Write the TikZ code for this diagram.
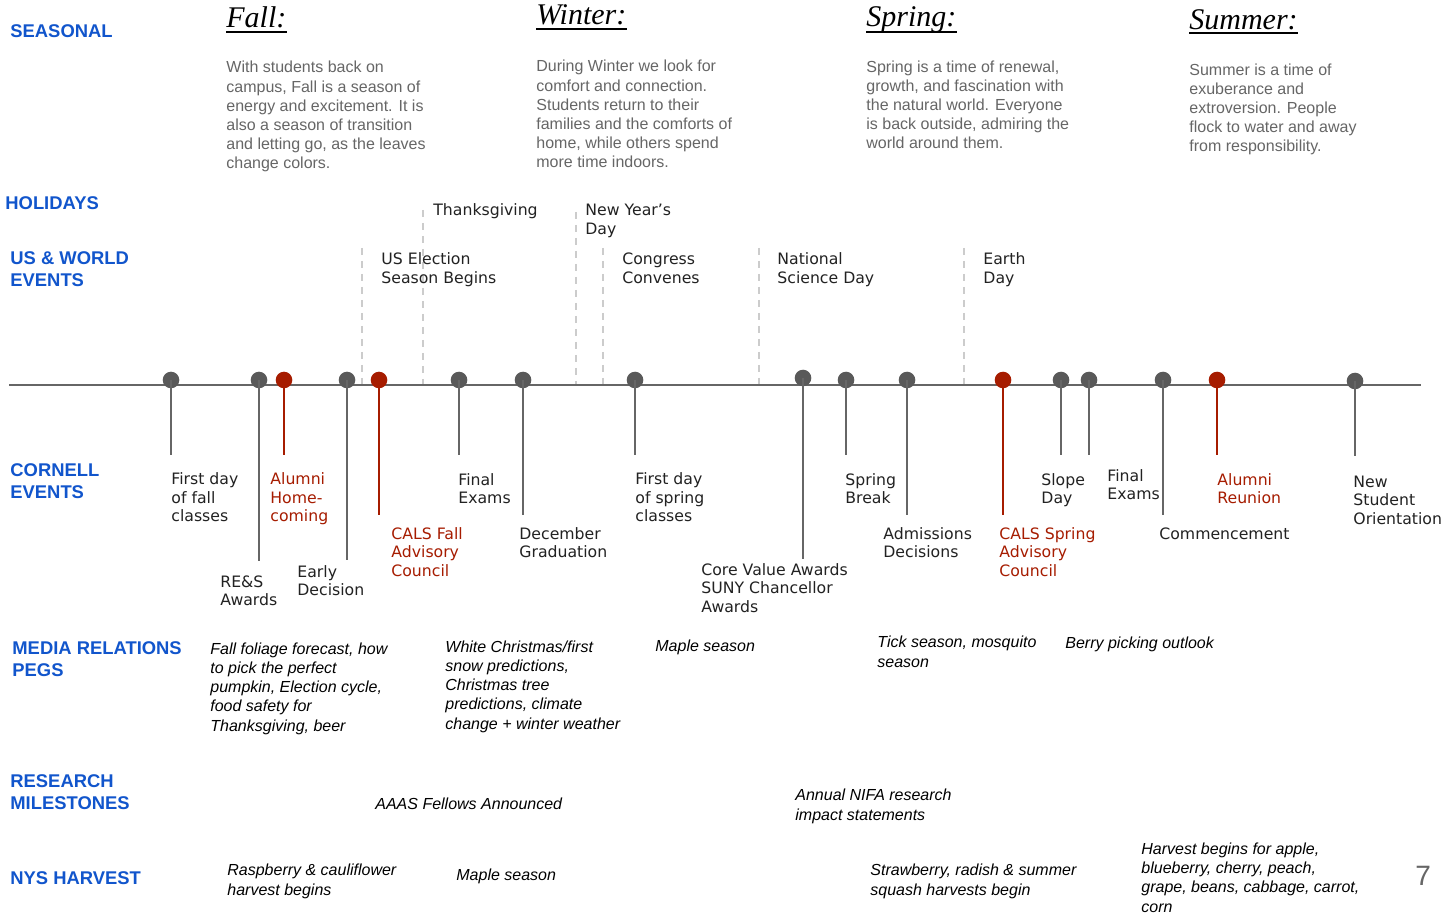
\documentclass[tikz,border=0pt]{standalone}
\usepackage{fontspec}
\setmainfont{Liberation Sans}
\newfontfamily\dejavu{DejaVu Sans}
\newfontfamily\libserif{Liberation Serif}
\usepackage{tikz}
\definecolor{cornellblue}{HTML}{1155CC}
\definecolor{calsred}{HTML}{A61C00}
\definecolor{dotgray}{HTML}{595959}
\definecolor{linegray}{HTML}{666666}
\definecolor{dashgray}{HTML}{CCCCCC}
\definecolor{textgray}{HTML}{666666}
\definecolor{inkblack}{HTML}{222222}

\begin{document}
\begin{tikzpicture}[x=0.5pt, y=-0.5pt,
      dot/.style={circle, fill=dotgray, inner sep=0pt, minimum size=8.3pt},
      reddot/.style={dot, fill=calsred},
      stem/.style={draw=linegray, line width=1pt},
      redstem/.style={stem, draw=calsred},
      holiday/.style={draw=dashgray, line width=0.6pt, dash pattern=on 3.5pt off 3pt},
      heading/.style={anchor=base west, align=left, inner sep=0pt, text=cornellblue, font=\bfseries\fontsize{9.2}{11}\selectfont},
      season/.style={anchor=base west, inner sep=0pt, font=\libserif\itshape\fontsize{15}{18}\selectfont},
      blurb/.style={anchor=base west, align=left, inner sep=0pt, text=textgray, font=\fontsize{8}{9.6}\selectfont},
      event/.style={anchor=base west, align=left, inner sep=0pt, text=inkblack, font=\dejavu\fontsize{7.85}{9.25}\selectfont},
      redevent/.style={event, text=calsred},
      peg/.style={anchor=base west, align=left, inner sep=0pt, text=black, font=\itshape\fontsize{8}{9.6}\selectfont}
      ]
      \useasboundingbox[fill=white] (0,0) rectangle (1451,919);
      % row headings (placed at the baseline of their last line)
      \node[heading] (seasonal) at (10,38) {SEASONAL};
      \node[heading] (holidays) at (5,210) {HOLIDAYS};
      \node[heading] (world) at (10,287) {US \& WORLD\\EVENTS};
      \node[heading] (cornell) at (10,499) {CORNELL\\EVENTS};
      \node[heading] (media) at (12,676) {MEDIA RELATIONS\\PEGS};
      \node[heading] (research) at (10,809) {RESEARCH\\MILESTONES};
      \node[heading] (harvest) at (10,884) {NYS HARVEST};
      % seasons
      \node[season] (fall) at (226,28) {Fall:};
      \node[season] (winter) at (536,25) {Winter:};
      \node[season] (spring) at (866,27) {Spring:};
      \node[season] (summer) at (1189,30) {Summer:};
      \draw[line width=1pt] ([yshift=-2pt]fall.base west) -- ([yshift=-2pt]fall.base east);
      \draw[line width=1pt] ([yshift=-2pt]winter.base west) -- ([yshift=-2pt]winter.base east);
      \draw[line width=1pt] ([yshift=-2.5pt]spring.base west) -- ([yshift=-2.5pt]spring.base east);
      \draw[line width=1pt] ([yshift=-1.5pt]summer.base west) -- ([yshift=-1.5pt]summer.base east);
      \node[blurb] (fallblurb) at (226,169) {With students back on\\campus, Fall is a season of\\energy and excitement. It is\\also a season of transition\\and letting go, as the leaves\\change colors.};
      \node[blurb] (winterblurb) at (536,168) {During Winter we look for\\comfort and connection.\\Students return to their\\families and the comforts of\\home, while others spend\\more time indoors.};
      \node[blurb] (springblurb) at (866,149) {Spring is a time of renewal,\\growth, and fascination with\\the natural world. Everyone\\is back outside, admiring the\\world around them.};
      \node[blurb] (summerblurb) at (1189,152) {Summer is a time of\\exuberance and\\extroversion. People\\flock to water and away\\from responsibility.};
      % holidays and world events
      \coordinate (electtop) at (362,248);   \coordinate (elect) at (362,385);
      \coordinate (thankstop) at (423,210);  \coordinate (thanks) at (423,385);
      \coordinate (newyeartop) at (576,212); \coordinate (newyear) at (576,385);
      \coordinate (congresstop) at (603,248); \coordinate (congress) at (603,385);
      \coordinate (sciencetop) at (759,248); \coordinate (science) at (759,385);
      \coordinate (earthtop) at (964,248);   \coordinate (earth) at (964,385);
      \draw[holiday] (electtop) -- (elect);
      \draw[holiday] (thankstop) -- (thanks);
      \draw[holiday] (newyeartop) -- (newyear);
      \draw[holiday] (congresstop) -- (congress);
      \draw[holiday] (sciencetop) -- (science);
      \draw[holiday] (earthtop) -- (earth);
      \node[event] (thankslbl) at (433,216) {Thanksgiving};
      \node[event] (newyearlbl) at (585,234.5) {New Year’s\\Day};
      \node[event] (electlbl) at (381,283.5) {US Election\\Season Begins};
      \node[event] (congresslbl) at (622,283.5) {Congress\\Convenes};
      \node[event] (sciencelbl) at (777,283.5) {National\\Science Day};
      \node[event] (earthlbl) at (983,283.5) {Earth\\Day};
      % timeline
      \coordinate (start) at (9,385);
      \coordinate (end) at (1421,385);
      \draw[draw=linegray, line width=0.9pt] (start) -- (end);
      % cornell events
      \node[dot] (d1) at (171,380) {};
      \node[dot] (d2) at (259,380) {};
      \node[reddot] (d3) at (284,380) {};
      \node[dot] (d4) at (347,380) {};
      \node[reddot] (d5) at (379,380) {};
      \node[dot] (d6) at (459,380) {};
      \node[dot] (d7) at (523,380) {};
      \node[dot] (d8) at (635,380) {};
      \node[dot] (d9) at (803,378) {};
      \node[dot] (d10) at (846,380) {};
      \node[dot] (d11) at (907,380) {};
      \node[reddot] (d12) at (1003,380) {};
      \node[dot] (d13) at (1061,380) {};
      \node[dot] (d14) at (1089,380) {};
      \node[dot] (d15) at (1163,380) {};
      \node[reddot] (d16) at (1217,380) {};
      \node[dot] (d17) at (1355,381) {};
      \coordinate (e1) at (171,455);
      \coordinate (e2) at (259,561);
      \coordinate (e3) at (284,455);
      \coordinate (e4) at (347,560);
      \coordinate (e5) at (379,515);
      \coordinate (e6) at (459,455);
      \coordinate (e7) at (523,515);
      \coordinate (e8) at (635,455);
      \coordinate (e9) at (803,559);
      \coordinate (e10) at (846,455);
      \coordinate (e11) at (907,515);
      \coordinate (e12) at (1003,515);
      \coordinate (e13) at (1061,455);
      \coordinate (e14) at (1089,455);
      \coordinate (e15) at (1163,515);
      \coordinate (e16) at (1217,455);
      \coordinate (e17) at (1355,456);
      \draw[stem] (d1.center) -- (e1);
      \draw[stem] (d2.center) -- (e2);
      \draw[redstem] (d3.center) -- (e3);
      \draw[stem] (d4.center) -- (e4);
      \draw[redstem] (d5.center) -- (e5);
      \draw[stem] (d6.center) -- (e6);
      \draw[stem] (d7.center) -- (e7);
      \draw[stem] (d8.center) -- (e8);
      \draw[stem] (d9.center) -- (e9);
      \draw[stem] (d10.center) -- (e10);
      \draw[stem] (d11.center) -- (e11);
      \draw[redstem] (d12.center) -- (e12);
      \draw[stem] (d13.center) -- (e13);
      \draw[stem] (d14.center) -- (e14);
      \draw[stem] (d15.center) -- (e15);
      \draw[redstem] (d16.center) -- (e16);
      \draw[stem] (d17.center) -- (e17);
      \node[event] (l1) at (171,522) {First day\\of fall\\classes};
      \node[event] (l2) at (220,605.5) {RE\&S\\Awards};
      \node[redevent] (l3) at (270,522) {Alumni\\Home-\\coming};
      \node[event] (l4) at (297,595.5) {Early\\Decision};
      \node[redevent] (l5) at (391,576) {CALS Fall\\Advisory\\Council};
      \node[event] (l6) at (458,503.5) {Final\\Exams};
      \node[event] (l7) at (519,557.5) {December\\Graduation};
      \node[event] (l8) at (635,522) {First day\\of spring\\classes};
      \node[event] (l9) at (701,612) {Core Value Awards\\SUNY Chancellor\\Awards};
      \node[event] (l10) at (845,503.5) {Spring\\Break};
      \node[event] (l11) at (883,557.5) {Admissions\\Decisions};
      \node[redevent] (l12) at (999,576) {CALS Spring\\Advisory\\Council};
      \node[event] (l13) at (1041,503.5) {Slope\\Day};
      \node[event] (l14) at (1107,499.5) {Final\\Exams};
      \node[event] (l15) at (1159,539) {Commencement};
      \node[redevent] (l16) at (1217,503.5) {Alumni\\Reunion};
      \node[event] (l17) at (1353,524) {New\\Student\\Orientation};
      % media pegs, research, harvest
      \node[peg] (p1) at (210,731) {Fall foliage forecast, how\\to pick the perfect\\pumpkin, Election cycle,\\food safety for\\Thanksgiving, beer};
      \node[peg] (p2) at (445,729) {White Christmas/first\\snow predictions,\\Christmas tree\\predictions, climate\\change + winter weather};
      \node[peg] (p3) at (655,651) {Maple season};
      \node[peg] (p4) at (877,667) {Tick season, mosquito\\season};
      \node[peg] (p5) at (1065,648) {Berry picking outlook};
      \node[peg] (r1) at (375,809) {AAAS Fellows Announced};
      \node[peg] (r2) at (795,820) {Annual NIFA research\\impact statements};
      \node[peg] (h1) at (227,895) {Raspberry \& cauliflower\\harvest begins};
      \node[peg] (h2) at (456,880) {Maple season};
      \node[peg] (h3) at (870,895) {Strawberry, radish \& summer\\squash harvests begin};
      \node[peg] (h4) at (1141,912) {Harvest begins for apple,\\blueberry, cherry, peach,\\grape, beans, cabbage, carrot,\\corn};
      \node[anchor=base west, inner sep=0pt, text=textgray, font=\fontsize{14}{16}\selectfont] (page) at (1415,885) {7};
    \end{tikzpicture}
\end{document}
